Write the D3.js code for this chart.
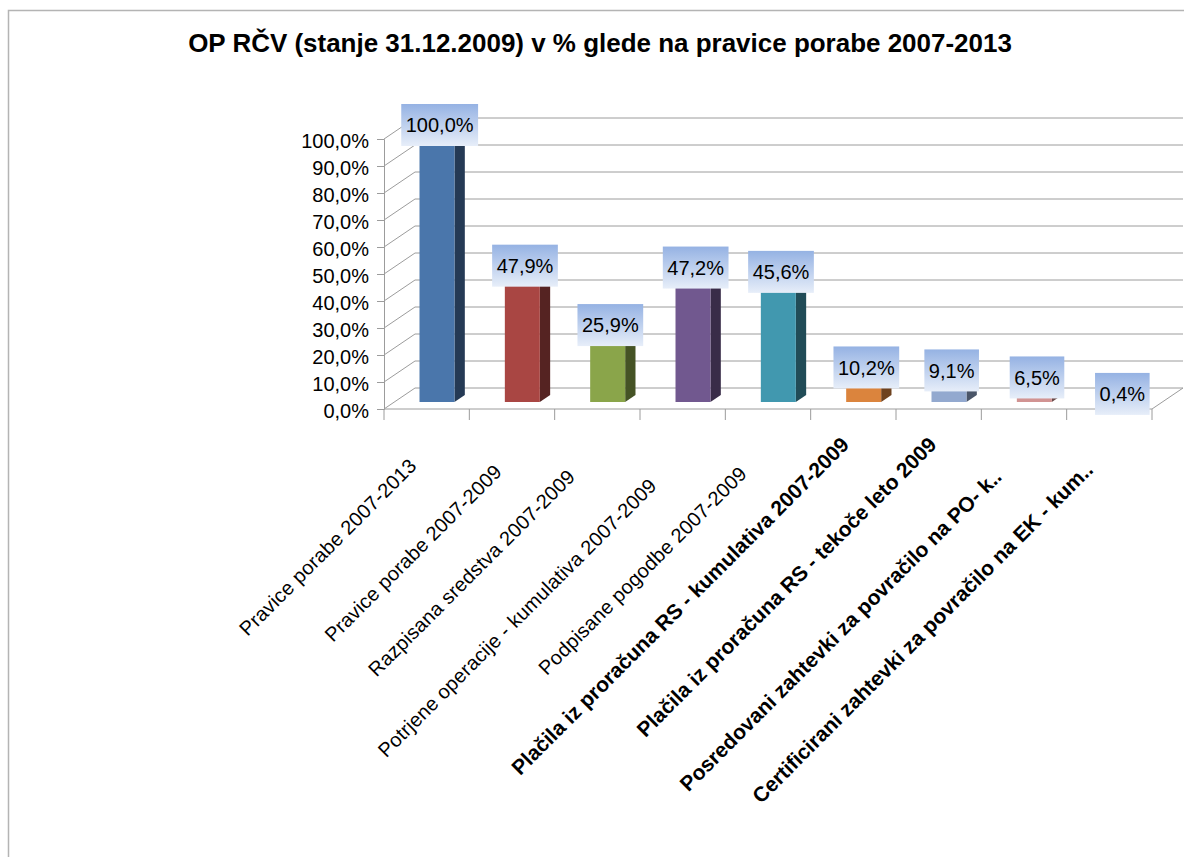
<!DOCTYPE html>
<html>
<head>
<meta charset="utf-8">
<script src="https://cdn.jsdelivr.net/npm/d3@7"></script>
<style>
  body { margin: 0; background: #fff; }
  svg { display: block; font-family: "Liberation Sans", Arial, sans-serif; }
</style>
</head>
<body>
<div id="chart"></div>
<script>
// chart data
var categories = [
    "Pravice porabe 2007-2013",
    "Pravice porabe 2007-2009",
    "Razpisana sredstva 2007-2009",
    "Potrjene operacije - kumulativa 2007-2009",
    "Podpisane pogodbe 2007-2009",
    "Plačila iz proračuna RS - kumulativa 2007-2009",
    "Plačila iz proračuna RS - tekoče leto 2009",
    "Posredovani zahtevki za povračilo na PO- k..",
    "Certificirani zahtevki za povračilo na EK - kum.."
];
var values = [100.0, 47.9, 25.9, 47.2, 45.6, 10.2, 9.1, 6.5, 0.4];
var yTicks = [0, 10, 20, 30, 40, 50, 60, 70, 80, 90, 100];
var title = "OP RČV (stanje 31.12.2009) v % glede na pravice porabe 2007-2013";

// layout
var width = 1184;
var height = 857;
var frontLeft = 384, frontRight = 1152;
var floorY = 409, topY = 139;
var DX = 31, DY = -21;          // depth of the 3d box
var barDepth = 1 / 3;            // bars sit between 1/3 and 2/3 of depth

var fronts = ["#4a76ab", "#a94643", "#8aa54a", "#71588f", "#4198af", "#db843d", "#93a9cf", "#d19392", "#b9cd96"];
var sides = ["#253a55", "#552322", "#455325", "#392c48", "#214c57", "#6e421f", "#4a5568", "#694a49", "#5d674b"];

// the last four labels are drawn bold; excel placed each label a bit differently
var boldFrom = 5;
var labelShift = [[-2, 1], [-2, 7], [-14, 12], [-18, 21], [-13, 9], [4, -20], [6, -20], [-14, 12], [-8, 5]];

var svg = d3.select("#chart")
    .append("svg")
    .attr("width", width)
    .attr("height", height);

var defs = svg.append("defs");
var grad = defs.append("linearGradient")
    .attr("id", "lblGrad")
    .attr("x1", 0).attr("y1", 0).attr("x2", 0).attr("y2", 1);
grad.append("stop").attr("offset", "0%").attr("stop-color", "#95b2e3");
grad.append("stop").attr("offset", "100%").attr("stop-color", "#e7eef9");

// frame
svg.append("rect")
    .attr("x", 8.5).attr("y", 10.5)
    .attr("width", 1300).attr("height", 1000)
    .attr("fill", "#fff")
    .attr("stroke", "#b4b4b4")
    .attr("stroke-width", 1.5);

// title, fit to the width of the original
var titleText = svg.append("text")
    .attr("x", 600)
    .attr("y", 52)
    .attr("text-anchor", "middle")
    .attr("font-weight", "bold")
    .attr("font-size", 24)
    .text(title);
var tLen = titleText.node().getComputedTextLength();
titleText.attr("font-size", 24 * 824 / tLen);

// scales
var xScale = d3.scaleBand()
    .domain(categories)
    .range([frontLeft, frontRight]);
var yScale = d3.scaleLinear()
    .domain([0, 100])
    .range([floorY, topY]);

var gridColor = "#9c9c9c";

// back wall gridlines
svg.append("g")
    .selectAll("line")
    .data(yTicks)
    .enter()
    .append("line")
    .attr("x1", frontLeft + DX)
    .attr("x2", frontRight + DX)
    .attr("y1", function(d) { return yScale(d) + DY; })
    .attr("y2", function(d) { return yScale(d) + DY; })
    .attr("stroke", gridColor);

// side wall diagonals
svg.append("g")
    .selectAll("line")
    .data(yTicks)
    .enter()
    .append("line")
    .attr("x1", frontLeft)
    .attr("x2", frontLeft + DX)
    .attr("y1", function(d) { return yScale(d); })
    .attr("y2", function(d) { return yScale(d) + DY; })
    .attr("stroke", gridColor);

// right floor edge
svg.append("line")
    .attr("x1", frontRight).attr("y1", floorY)
    .attr("x2", frontRight + DX).attr("y2", floorY + DY)
    .attr("stroke", gridColor);

// y axis
var yAxis = d3.axisLeft(yScale)
    .tickValues(yTicks)
    .tickSize(7)
    .tickFormat(function(d) { return d.toFixed(1).replace(".", ",") + "%"; });

var yG = svg.append("g")
    .attr("transform", "translate(" + frontLeft + ",0)")
    .call(yAxis);
yG.select(".domain").attr("stroke", gridColor);
yG.selectAll(".tick line").attr("stroke", gridColor);
yG.selectAll(".tick text")
    .attr("x", -15)
    .attr("dy", "0.42em")
    .attr("font-size", 20)
    .attr("font-family", "Liberation Sans, Arial, sans-serif")
    .attr("fill", "#000");

// x axis line with ticks at category borders
var xG = svg.append("g");
xG.append("line")
    .attr("x1", frontLeft).attr("x2", frontRight)
    .attr("y1", floorY).attr("y2", floorY)
    .attr("stroke", gridColor);
var borders = categories.map(function(c) { return xScale(c); }).concat([frontRight]);
xG.selectAll(".xtick")
    .data(borders)
    .enter()
    .append("line")
    .attr("x1", function(d) { return d; })
    .attr("x2", function(d) { return d; })
    .attr("y1", floorY)
    .attr("y2", floorY + 11)
    .attr("stroke", gridColor);

// 3d bars
var barW = xScale.bandwidth() * 0.41;
var bdx = DX * barDepth, bdy = DY * barDepth;

function barLeft(c) {
    return xScale(c) + xScale.bandwidth() / 2 - barW / 2 + bdx;
}

var bars = svg.append("g")
    .selectAll("g")
    .data(values)
    .enter()
    .append("g");

// top face
bars.append("path")
    .attr("d", function(d, i) {
        var x = barLeft(categories[i]), y = yScale(d) + bdy;
        return "M" + x + "," + y + "l" + bdx + "," + bdy + "h" + barW + "l" + (-bdx) + "," + (-bdy) + "Z";
    })
    .attr("fill", function(d, i) { return d3.color(fronts[i]).brighter(0.5); });

// side face
bars.append("path")
    .attr("d", function(d, i) {
        var x = barLeft(categories[i]) + barW, y0 = yScale(0) + bdy, y1 = yScale(d) + bdy;
        return "M" + x + "," + y0 + "V" + y1 + "l" + bdx + "," + bdy + "V" + (y0 + bdy) + "Z";
    })
    .attr("fill", function(d, i) { return sides[i]; });

// front face
bars.append("rect")
    .attr("x", function(d, i) { return barLeft(categories[i]); })
    .attr("y", function(d) { return yScale(d) + bdy; })
    .attr("width", barW)
    .attr("height", function(d) { return yScale(0) - yScale(d); })
    .attr("fill", function(d, i) { return fronts[i]; });

// data labels in gradient boxes
var labels = svg.append("g")
    .selectAll("g")
    .data(values)
    .enter()
    .append("g")
    .attr("transform", function(d, i) {
        var cx = xScale(categories[i]) + xScale.bandwidth() / 2 + 13;
        var cy = yScale(d) + 2 * bdy;
        return "translate(" + cx + "," + cy + ")";
    });

labels.append("rect").attr("class", "lblBox");
labels.append("text")
    .attr("text-anchor", "middle")
    .attr("dy", "0.36em")
    .attr("font-size", 20)
    .attr("fill", "#000")
    .text(function(d) { return d.toFixed(1).replace(".", ",") + "%"; });

labels.each(function() {
    var g = d3.select(this);
    var tw = g.select("text").node().getComputedTextLength();
    g.select("rect")
        .attr("x", -(tw + 9) / 2)
        .attr("y", -21)
        .attr("width", tw + 9)
        .attr("height", 42)
        .attr("fill", "url(#lblGrad)");
});

// rotated category labels
svg.append("g")
    .selectAll("text")
    .data(categories)
    .enter()
    .append("text")
    .attr("transform", function(d, i) {
        var x = xScale(d) + xScale.bandwidth() / 2 - 7 + labelShift[i][0];
        var y = 466 + labelShift[i][1];
        return "translate(" + x + "," + y + ")rotate(-45)";
    })
    .attr("text-anchor", "end")
    .attr("font-size", function(d, i) { return i >= boldFrom ? 21 : 20; })
    .attr("font-weight", function(d, i) { return i >= boldFrom ? "bold" : "normal"; })
    .attr("letter-spacing", function(d, i) { return i >= boldFrom ? 0 : 0.2; })
    .attr("fill", "#000")
    .text(function(d) { return d; });
</script>
</body>
</html>
